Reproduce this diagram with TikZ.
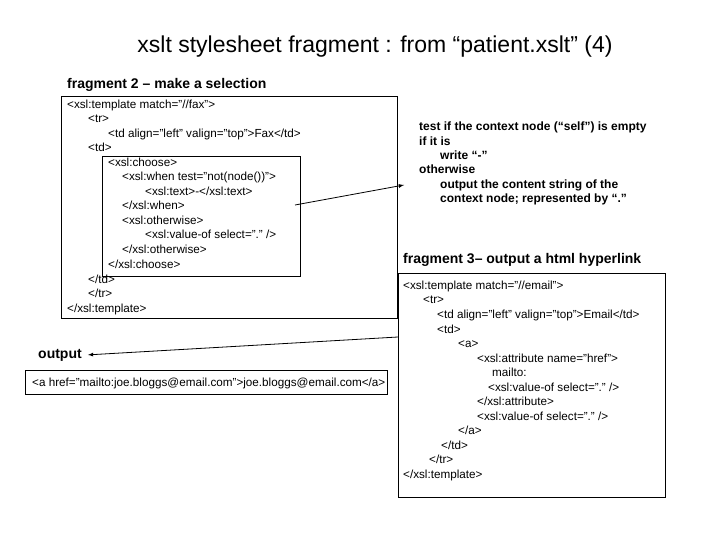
\documentclass[tikz,border=0pt]{standalone}
\usepackage{fontspec}
\setmainfont{Liberation Sans}
\begin{document}
\begin{tikzpicture}[x=1pt, y=-1pt,
    code/.style = {anchor=base west, inner sep=0pt, font=\fontsize{11.7}{13}\selectfont},
    head/.style = {anchor=base west, inner sep=0pt, font=\bfseries\fontsize{14}{16}\selectfont},
    note/.style = {anchor=base west, inner sep=0pt, font=\bfseries\fontsize{12}{14}\selectfont},
    frame/.style = {draw, line width=.6pt}]

        \useasboundingbox (0,0) rectangle (720,540);
        \node [anchor=base, inner sep=0pt, font=\fontsize{23}{26}\selectfont] (title) at (375,53) {xslt stylesheet fragment : from “patient.xslt” (4)};

        % fragment 2
        \node [head] (fragtwo) at (67,89) {fragment 2 -- make a selection};
        \draw [frame] (61,96) rectangle (397,318);
        \draw [frame] (102,156) rectangle (300,276);
        \foreach \x/\y/\t in {67/109/{<xsl:template match="//fax">}, 88/123/{<tr>}, 108/138/{<td align="left" valign="top">Fax</td>},
                              88/152/{<td>}, 108/167/{<xsl:choose>}, 122/181/{<xsl:when test="not(node())">},
                              145/196/{<xsl:text>-</xsl:text>}, 122/210/{</xsl:when>}, 122/225/{<xsl:otherwise>},
                              145/239/{<xsl:value-of select="." />}, 122/254/{</xsl:otherwise>}, 108/268/{</xsl:choose>},
                              88/283/{</td>}, 88/297/{</tr>}, 67/312/{</xsl:template>}} {
          \node [code] at (\x,\y) {\t};
        }
        \coordinate (choose) at (295,205);

        % note
        \foreach \x/\y/\t in {419/131/{test if the context node (“self”) is empty}, 419/146/{if it is}, 440/160/{write “-”},
                              419/174/{otherwise}, 440/189/{output the content string of the}, 440/203/{context node; represented by “.”}} {
          \node [note] at (\x,\y) {\t};
        }
        \coordinate (notept) at (404,185);
        \draw [->, >=latex, thick] (choose) -- (notept);

        % fragment 3
        \node [head] (fragthree) at (403,263) {fragment 3-- output a html hyperlink};
        \draw [frame] (398,273) rectangle (665,497);
        \foreach \x/\y/\t in {403/289/{<xsl:template match="//email">}, 423/303/{<tr>}, 437/318/{<td align="left" valign="top">Email</td>},
                              437/333/{<td>}, 458/347/{<a>}, 477/362/{<xsl:attribute name="href">}, 492/376/{mailto:},
                              488/391/{<xsl:value-of select="." />}, 477/405/{</xsl:attribute>}, 477/420/{<xsl:value-of select="." />},
                              458/434/{</a>}, 441/449/{</td>}, 429/463/{</tr>}, 403/478/{</xsl:template>}} {
          \node [code] at (\x,\y) {\t};
        }
        \coordinate (emailpt) at (398,337);

        % output
        \node [head, anchor=base west] (output) at (38,358) {output};
        \draw [frame] (25,370) rectangle (387,394);
        \node [code] (result) at (32,386) {<a href="mailto:joe.bloggs@email.com">joe.bloggs@email.com</a>};
        \draw [->, >=latex, thick] (emailpt) -- ([xshift=6pt]output.east);
        \end{tikzpicture}
\end{document}
